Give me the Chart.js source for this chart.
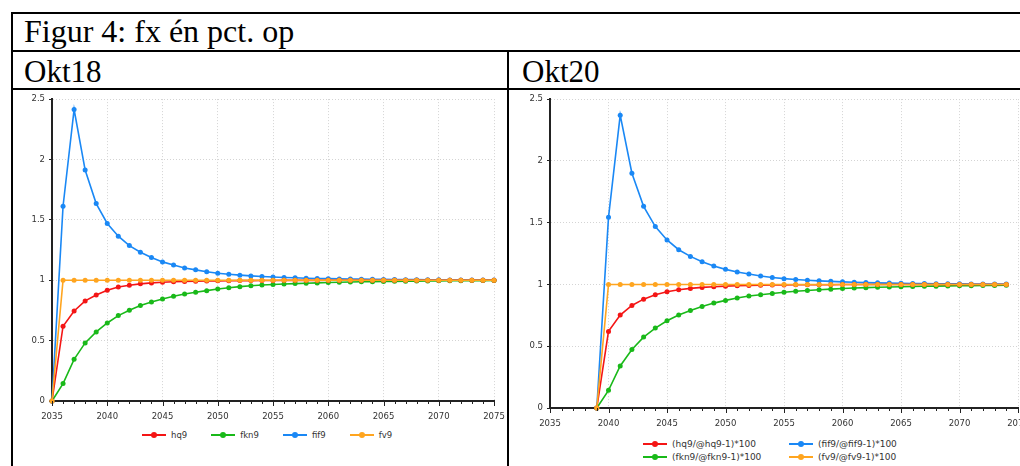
<!DOCTYPE html>
<html>
<head>
<meta charset="utf-8">
<script src="https://cdn.jsdelivr.net/npm/chart.js@4.4.1/dist/chart.umd.min.js"></script>
<style>
html, body { margin: 0; padding: 0; width: 1020px; height: 466px; overflow: hidden; background: #fff; }
.line { position: absolute; background: #000; }
.cap { position: absolute; font-family: "Liberation Serif", serif; line-height: 30px; color: #000; white-space: nowrap; }
.box { position: absolute; }
.legend { position: absolute; font-family: "DejaVu Sans", sans-serif; color: #333; white-space: nowrap; }
.legend .item { display: flex; align-items: center; height: 13px; }
.legend .sw { position: relative; width: 24px; height: 8px; margin-right: 5px; flex: none; }
.legend .sw i { position: absolute; left: 0; right: 0; top: 3px; height: 2px; }
.legend .sw b { position: absolute; left: 9px; top: 1px; width: 6px; height: 6px; border-radius: 50%; }
#legL { left: 142px; top: 428px; display: flex; gap: 24px; font-size: 8.5px; }
#legR { left: 643px; top: 437px; display: grid; grid-auto-flow: column; grid-template-rows: 13px 13px; grid-template-columns: 146px 146px; font-size: 9px; }
</style>
</head>
<body>

<!-- table frame -->
<div class="line" style="left:11px; top:12px; width:2px; height:460px;"></div>
<div class="line" style="left:11px; top:12px; width:1020px; height:2px;"></div>
<div class="line" style="left:11px; top:50px; width:1020px; height:2px;"></div>
<div class="line" style="left:11px; top:88px; width:1020px; height:2px;"></div>
<div class="line" style="left:507px; top:50px; width:2px; height:420px;"></div>

<div class="cap" style="left:24px; top:16px; font-size:32px;">Figur 4: fx én pct. op</div>
<div class="cap" style="left:24px; top:57px; font-size:31px;">Okt18</div>
<div class="cap" style="left:522px; top:57px; font-size:31px;">Okt20</div>

<div class="box" style="left:13px; top:90px; width:494px; height:336px;"><canvas id="chartL"></canvas></div>
<div class="box" style="left:509px; top:90px; width:525px; height:343px;"><canvas id="chartR"></canvas></div>
<div class="legend" id="legL"></div>
<div class="legend" id="legR"></div>

<script>
// Okt18 run: 2035-2075
const yearsL = [2035, 2036, 2037, 2038, 2039, 2040, 2041, 2042, 2043, 2044, 2045, 2046, 2047, 2048,
	2049, 2050, 2051, 2052, 2053, 2054, 2055, 2056, 2057, 2058, 2059, 2060, 2061, 2062, 2063, 2064,
	2065, 2066, 2067, 2068, 2069, 2070, 2071, 2072, 2073, 2074, 2075];
const hq9L = [0, 0.619, 0.746, 0.829, 0.878, 0.917, 0.944, 0.959, 0.970, 0.978, 0.983, 0.987, 0.990,
	0.992, 0.994, 0.995, 0.996, 0.997, 0.997, 0.998, 0.998, 0.999, 0.999, 0.999, 0.999, 1, 1, 1, 1, 1,
	1, 1, 1, 1, 1, 1, 1, 1, 1, 1, 1];
const fkn9L = [0, 0.144, 0.345, 0.481, 0.572, 0.646, 0.707, 0.751, 0.790, 0.820, 0.845, 0.868, 0.886,
	0.900, 0.914, 0.927, 0.938, 0.947, 0.955, 0.960, 0.965, 0.969, 0.972, 0.975, 0.978, 0.981, 0.983,
	0.985, 0.987, 0.988, 0.990, 0.991, 0.992, 0.993, 0.994, 0.995, 0.996, 0.996, 0.997, 0.997, 0.998];
const fif9L = [0, 1.613, 2.414, 1.912, 1.635, 1.470, 1.365, 1.287, 1.232, 1.188, 1.152, 1.127, 1.102,
	1.086, 1.070, 1.058, 1.050, 1.042, 1.036, 1.031, 1.027, 1.023, 1.020, 1.017, 1.015, 1.013, 1.011,
	1.010, 1.009, 1.008, 1.007, 1.006, 1.005, 1.005, 1.004, 1.004, 1.003, 1.003, 1.002, 1.002, 1.002];
const fv9L = [0, 1, 1, 1, 1, 1, 1, 1, 1, 1, 1, 1, 1, 1, 1, 1, 1, 1, 1, 1, 1, 1, 1, 1, 1, 1, 1, 1, 1, 1,
	1, 1, 1, 1, 1, 1, 1, 1, 1, 1, 1];

// Okt20 run: 2039-2074
const yearsR = [2039, 2040, 2041, 2042, 2043, 2044, 2045, 2046, 2047, 2048, 2049, 2050, 2051, 2052,
	2053, 2054, 2055, 2056, 2057, 2058, 2059, 2060, 2061, 2062, 2063, 2064, 2065, 2066, 2067, 2068,
	2069, 2070, 2071, 2072, 2073, 2074];
const hq9R = [0, 0.620, 0.752, 0.830, 0.881, 0.916, 0.941, 0.957, 0.968, 0.976, 0.981, 0.986, 0.989,
	0.991, 0.993, 0.995, 0.996, 0.997, 0.997, 0.998, 0.998, 0.999, 0.999, 0.999, 0.999, 1, 1, 1, 1, 1,
	1, 1, 1, 1, 1, 1];
const fkn9R = [0, 0.143, 0.340, 0.474, 0.574, 0.647, 0.706, 0.752, 0.790, 0.822, 0.849, 0.871, 0.890,
	0.906, 0.917, 0.927, 0.937, 0.945, 0.951, 0.957, 0.962, 0.967, 0.971, 0.974, 0.977, 0.979, 0.981,
	0.983, 0.985, 0.986, 0.988, 0.989, 0.990, 0.991, 0.992, 0.993];
const fif9R = [0, 1.543, 2.370, 1.900, 1.632, 1.468, 1.360, 1.281, 1.227, 1.184, 1.149, 1.122, 1.100,
	1.084, 1.068, 1.056, 1.047, 1.040, 1.034, 1.029, 1.025, 1.021, 1.018, 1.015, 1.013, 1.011, 1.010,
	1.008, 1.007, 1.006, 1.005, 1.005, 1.004, 1.004, 1.003, 1.003];
const fv9R = [0, 1, 1, 1, 1, 1, 1, 1, 1, 1, 1, 1, 1, 1, 1, 1, 1, 1, 1, 1, 1, 1, 1, 1, 1, 1, 1, 1, 1, 1,
	1, 1, 1, 1, 1, 1];

const namesL = ['hq9', 'fkn9', 'fif9', 'fv9'];
const namesR = ['(hq9/@hq9-1)*100', '(fkn9/@fkn9-1)*100', '(fif9/@fif9-1)*100', '(fv9/@fv9-1)*100'];
const colors = ['#f41515', '#19b919', '#1a88f5', '#ffa51f'];

const xMin = 2035, xMax = 2075;
const yTicks = [0, 0.5, 1, 1.5, 2, 2.5];

function points(years, vals) {
	return years.map((yr, i) => ({x: yr, y: vals[i]}));
}

function makeDatasets(years, series, names) {
	return series.map((vals, i) => ({
		label: names[i],
		data: points(years, vals),
		borderColor: colors[i],
		backgroundColor: colors[i],
		borderWidth: 1.6,
		pointRadius: 2.5,
		pointHoverRadius: 2.5,
		pointBorderWidth: 0,
		tension: 0,
		clip: false,
		// orange (fv9) sits on top of the others
		order: i === 3 ? 0 : 1
	}));
}

const tickFont = {family: 'DejaVu Sans', size: 8.5};

// x tick marks: long ones at the labelled years, short ones in between
const yearTicks = {
	id: 'yearTicks',
	afterDraw(chart) {
		const sx = chart.scales.x;
		const ctx = chart.ctx;
		ctx.save();
		ctx.strokeStyle = '#222';
		ctx.lineWidth = 1;
		ctx.beginPath();
		sx.ticks.forEach(t => {
			const px = Math.round(sx.getPixelForValue(t.value)) + 0.5;
			ctx.moveTo(px, sx.top);
			ctx.lineTo(px, sx.top + (t.value % 5 === 0 ? 5 : 3));
		});
		ctx.stroke();
		ctx.restore();
	}
};

function makeOptions(pad) {
	return {
		responsive: true,
		maintainAspectRatio: false,
		animation: false,
		events: [],
		layout: {padding: pad},
		plugins: {legend: {display: false}, tooltip: {enabled: false}},
		scales: {
			x: {
				type: 'linear',
				min: xMin,
				max: xMax,
				afterFit: s => { s.height = 24; },
				ticks: {
					stepSize: 1,
					autoSkip: false,
					maxRotation: 0,
					padding: 2,
					color: '#333',
					font: tickFont,
					callback: v => (v % 5 === 0 ? String(v) : '')
				},
				grid: {
					color: c => (c.tick && c.tick.value % 5 === 0 ? '#d4d4d4' : 'rgba(0,0,0,0)'),
					lineWidth: 1,
					tickColor: 'rgba(0,0,0,0)',
					tickLength: 9,
					tickBorderDash: []
				},
				border: {color: '#222', width: 2, dash: [1, 2]}
			},
			y: {
				min: 0,
				max: 2.5,
				afterFit: s => { s.width = 20; },
				afterBuildTicks: s => { s.ticks = yTicks.map(v => ({value: v})); },
				ticks: {padding: 4, color: '#333', font: tickFont, callback: v => String(v)},
				grid: {
					color: '#d4d4d4',
					lineWidth: 1,
					tickColor: '#222',
					tickLength: 3,
					tickBorderDash: []
				},
				border: {color: '#222', width: 2, dash: [1, 2]}
			}
		}
	};
}

new Chart(document.getElementById('chartL'), {
	type: 'line',
	data: {datasets: makeDatasets(yearsL, [hq9L, fkn9L, fif9L, fv9L], namesL)},
	options: makeOptions({left: 19, top: 9, right: 13, bottom: 1}),
	plugins: [yearTicks]
});

new Chart(document.getElementById('chartR'), {
	type: 'line',
	data: {datasets: makeDatasets(yearsR, [hq9R, fkn9R, fif9R, fv9R], namesR)},
	options: makeOptions({left: 21, top: 9, right: 16, bottom: 1}),
	plugins: [yearTicks]
});

// legends: line with a dot, like the original output
function buildLegend(el, names) {
	names.forEach((name, i) => {
		const item = document.createElement('div');
		item.className = 'item';
		item.innerHTML = '<span class="sw"><i style="background:' + colors[i] + '"></i><b style="background:' +
			colors[i] + '"></b></span><span>' + name + '</span>';
		el.appendChild(item);
	});
}
buildLegend(document.getElementById('legL'), namesL);
buildLegend(document.getElementById('legR'), namesR);
</script>
</body>
</html>
